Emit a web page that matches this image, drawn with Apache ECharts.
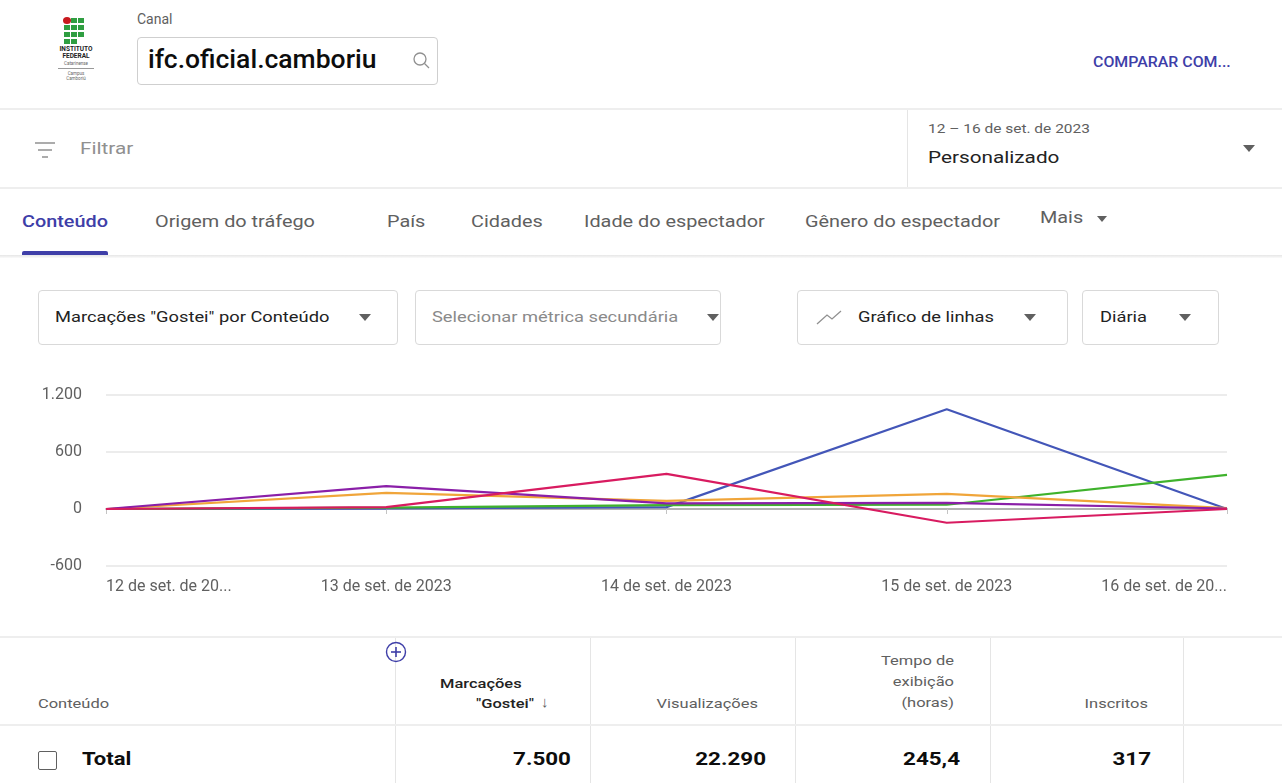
<!DOCTYPE html>
<html lang="pt-BR">
<head>
<meta charset="UTF-8">
<title>ifc.oficial.camboriu - Marcações "Gostei"</title>
<script src="https://cdn.jsdelivr.net/npm/echarts@6/dist/echarts.min.js"></script>
<style>
    body { margin: 0; width: 1282px; height: 783px; overflow: hidden; background: #fff; font-family: Roboto, "Noto Sans", sans-serif; color: #0d0d0d; position: relative; }
    .abs { position: absolute; white-space: nowrap; }
    .w { transform: scaleX(1.22); transform-origin: left center; }
    .wr { transform: scaleX(1.22); transform-origin: right center; }
    .box { position: absolute; border: 1px solid #d9d9d9; border-radius: 4px; box-sizing: border-box; }
    .tri { position: absolute; width: 0; height: 0; border-left: 6px solid transparent; border-right: 6px solid transparent; border-top: 7px solid #606060; }
    .tab { position: absolute; top: 212px; font-size: 16px; color: #606060; white-space: nowrap; transform: scaleX(1.24); transform-origin: left center; }
    .th { position: absolute; font-size: 13.5px; color: #606060; text-align: right; line-height: 21px; white-space: nowrap; }
    .td { position: absolute; top: 747px; font-size: 19px; font-weight: 700; text-align: right; transform: scaleX(1.18); transform-origin: right center; }
    .vline { position: absolute; width: 1px; background: #e5e5e5; }
    .hline { position: absolute; left: 0; width: 1282px; height: 1px; background: #e5e5e5; }
    .sq { position: absolute; width: 6px; height: 5px; background: #2f9e41; }
</style>
</head>
<body>
<!-- logo -->
<div class="abs" style="left:63px;top:17px;width:8px;height:7px;border-radius:50%;background:#c8191e"></div>
<div class="sq" style="left:71px;top:18px"></div><div class="sq" style="left:78px;top:18px"></div>
<div class="sq" style="left:64px;top:25px"></div><div class="sq" style="left:71px;top:25px"></div><div class="sq" style="left:78px;top:25px"></div>
<div class="sq" style="left:64px;top:32px"></div><div class="sq" style="left:71px;top:32px"></div><div class="sq" style="left:78px;top:32px"></div>
<div class="sq" style="left:64px;top:39px"></div><div class="sq" style="left:71px;top:39px"></div>
<div class="abs" style="left:52px;top:46px;width:48px;text-align:center;font-size:6.5px;font-weight:700;line-height:7px;color:#222">INSTITUTO<br>FEDERAL</div>
<div class="abs" style="left:52px;top:61px;width:48px;text-align:center;font-size:4.5px;line-height:5px;color:#666">Catarinense</div>
<div class="abs" style="left:58px;top:68px;width:36px;height:1px;background:#999"></div>
<div class="abs" style="left:52px;top:71px;width:48px;text-align:center;font-size:4.5px;line-height:5px;color:#666">Campus<br>Camboriú</div>

<div class="abs" style="left:137px;top:11px;font-size:14px;color:#606060">Canal</div>
<div class="box" style="left:137px;top:37px;width:301px;height:48px;border-color:#cfcfcf"></div>
<div class="abs" style="left:148px;top:45px;font-size:25px;font-weight:500;color:#0d0d0d;transform:scaleX(1.06);transform-origin:left center">ifc.oficial.camboriu</div>
<svg class="abs" style="left:412px;top:51px" width="20" height="20" viewBox="0 0 20 20"><circle cx="8" cy="8" r="6" fill="none" stroke="#909090" stroke-width="1.3"/><line x1="12.5" y1="12.5" x2="17" y2="17" stroke="#909090" stroke-width="1.3"/></svg>
<div class="abs" style="left:1093px;top:53px;font-size:15px;font-weight:500;color:#3e3ea8;transform:scaleX(1.06);transform-origin:left center">COMPARAR COM...</div>

<!-- filter row -->
<div class="hline" style="top:108px;height:2px;background:#eeeeee"></div>
<svg class="abs" style="left:34px;top:140px" width="24" height="22" viewBox="0 0 24 22"><line x1="1" y1="3" x2="21" y2="3" stroke="#909090" stroke-width="1.5"/><line x1="4" y1="10" x2="18" y2="10" stroke="#909090" stroke-width="1.5"/><line x1="8" y1="17" x2="14" y2="17" stroke="#909090" stroke-width="1.5"/></svg>
<div class="abs w" style="left:80px;top:138px;font-size:17px;color:#909090">Filtrar</div>
<div class="vline" style="left:907px;top:110px;height:78px"></div>
<div class="abs" style="left:928px;top:121px;font-size:13px;color:#606060;transform:scaleX(1.19);transform-origin:left center">12 – 16 de set. de 2023</div>
<div class="abs w" style="left:928px;top:147px;font-size:17px;color:#222">Personalizado</div>
<div class="tri" style="left:1243px;top:145px"></div>
<div class="hline" style="top:187px;height:2px;background:#eeeeee"></div>

<!-- tabs -->
<div class="tab" style="left:22px;color:#3e3ea8;font-weight:500">Conteúdo</div>
<div class="abs" style="left:22px;top:251px;width:86px;height:4px;background:#3f3fa8;border-radius:2px 2px 0 0"></div>
<div class="tab" style="left:155px">Origem do tráfego</div>
<div class="tab" style="left:387px">País</div>
<div class="tab" style="left:471px">Cidades</div>
<div class="tab" style="left:584px">Idade do espectador</div>
<div class="tab" style="left:805px">Gênero do espectador</div>
<div class="tab" style="left:1040px;top:208px">Mais</div>
<div class="tri" style="left:1097px;top:216px;border-left-width:5px;border-right-width:5px;border-top-width:6px"></div>
<div class="hline" style="top:255px;height:3px;background:linear-gradient(#e6e6e6,#fafafa)"></div>

<!-- selectors -->
<div class="box" style="left:38px;top:290px;width:360px;height:55px"></div>
<div class="abs w" style="left:55px;top:308px;font-size:15px;color:#222">Marcações "Gostei" por Conteúdo</div>
<div class="tri" style="left:359px;top:314px"></div>
<div class="box" style="left:415px;top:290px;width:306px;height:55px"></div>
<div class="abs w" style="left:432px;top:308px;font-size:15px;color:#8a8a8a">Selecionar métrica secundária</div>
<div class="tri" style="left:707px;top:314px"></div>
<div class="box" style="left:797px;top:290px;width:271px;height:55px"></div>
<svg class="abs" style="left:815px;top:308px" width="28" height="18" viewBox="0 0 28 18"><polyline points="2,16 12,7 17,11 26,3" fill="none" stroke="#909090" stroke-width="1.3"/></svg>
<div class="abs w" style="left:858px;top:308px;font-size:15px;color:#222">Gráfico de linhas</div>
<div class="tri" style="left:1024px;top:314px"></div>
<div class="box" style="left:1082px;top:290px;width:137px;height:55px"></div>
<div class="abs w" style="left:1100px;top:308px;font-size:15px;color:#222">Diária</div>
<div class="tri" style="left:1179px;top:314px"></div>

<!-- chart -->
<div id="main" class="abs" style="left:0;top:370px;width:1282px;height:250px"></div>

<!-- table -->
<div class="hline" style="top:636px;height:2px;background:#eeeeee"></div>
<div class="vline" style="left:395px;top:638px;height:145px"></div>
<div class="vline" style="left:590px;top:638px;height:145px"></div>
<div class="vline" style="left:795px;top:638px;height:145px"></div>
<div class="vline" style="left:990px;top:638px;height:145px"></div>
<div class="vline" style="left:1183px;top:638px;height:145px"></div>
<div class="th w" style="left:38px;top:693px;text-align:left">Conteúdo</div>
<svg class="abs" style="left:385px;top:641px" width="22" height="22" viewBox="0 0 22 22"><circle cx="11" cy="11" r="9.5" fill="none" stroke="#3e3ea8" stroke-width="1.4"/><line x1="11" y1="6" x2="11" y2="16" stroke="#3e3ea8" stroke-width="1.6"/><line x1="6" y1="11" x2="16" y2="11" stroke="#3e3ea8" stroke-width="1.6"/></svg>
<div class="th w" style="left:440px;top:673px;text-align:left;color:#222;font-weight:500">Marcações</div>
<div class="th wr" style="left:420px;top:693px;width:114px;color:#222;font-weight:500">"Gostei"</div>
<div class="abs" style="left:541px;top:693px;font-size:15px;color:#606060">↓</div>
<div class="th wr" style="left:600px;top:693px;width:158px">Visualizações</div>
<div class="th wr" style="left:800px;top:650px;width:154px">Tempo de<br>exibição<br>(horas)</div>
<div class="th wr" style="left:1000px;top:693px;width:148px">Inscritos</div>
<div class="hline" style="top:724px;height:2px;background:#eeeeee"></div>
<div class="abs" style="left:38px;top:751px;width:19px;height:19px;border:1.5px solid #606060;border-radius:2px;box-sizing:border-box"></div>
<div class="abs" style="left:82px;top:747px;font-size:19px;font-weight:700;transform:scaleX(1.16);transform-origin:left center">Total</div>
<div class="td" style="left:450px;width:121px">7.500</div>
<div class="td" style="left:650px;width:116px">22.290</div>
<div class="td" style="left:850px;width:110px">245,4</div>
<div class="td" style="left:1050px;width:101px">317</div>

<script>
    // dias (eixo x)
    var dias = ['12 de set. de 2023', '13 de set. de 2023', '14 de set. de 2023', '15 de set. de 2023', '16 de set. de 2023'];
    // marcações "Gostei" por conteúdo
    var conteudo1 = [0, 5, 20, 1050, 0];      // azul
    var conteudo2 = [0, 15, 40, 45, 360];     // verde
    var conteudo3 = [0, 170, 85, 160, 10];    // laranja
    var conteudo4 = [0, 240, 60, 65, 5];      // roxo
    var conteudo5 = [0, 20, 370, -145, 0];    // rosa
    var eixoY = { min: -600, max: 1200, interval: 600 };

    var cores = ['#4356b8', '#3fb22c', '#f0a53a', '#8a1fa8', '#d81b60'];
    var nomes = ['Conteúdo 1', 'Conteúdo 2', 'Conteúdo 3', 'Conteúdo 4', 'Conteúdo 5'];
    var valores = [conteudo1, conteudo2, conteudo3, conteudo4, conteudo5];

    var myChart = echarts.init(document.getElementById('main'));
    var option = {
        animation: false,
        color: cores,
        grid: { left: 106, right: 55, top: 25, bottom: 54 },
        xAxis: {
            type: 'category',
            data: dias,
            boundaryGap: false,
            axisLine: { lineStyle: { color: '#9e9e9e', width: 1.5 } },
            axisTick: { show: true, length: 5, lineStyle: { color: '#c4c4c4' } },
            axisLabel: {
                color: '#606060',
                fontSize: 16,
                fontFamily: 'Roboto',
                margin: 13,
                interval: 0,
                alignMinLabel: 'left',
                alignMaxLabel: 'right',
                formatter: function (v, i) {
                    // primeiro e último cortados como no original
                    if (i === 0 || i === dias.length - 1) return v.slice(0, 16) + '...';
                    return v;
                }
            }
        },
        yAxis: {
            type: 'value',
            min: eixoY.min,
            max: eixoY.max,
            interval: eixoY.interval,
            axisLine: { show: false },
            axisTick: { show: false },
            splitLine: { lineStyle: { color: '#ececec', width: 2 } },
            axisLabel: {
                color: '#606060',
                fontSize: 16,
                fontFamily: 'Roboto',
                margin: 24,
                formatter: function (v) { return v.toLocaleString('pt-BR'); }
            }
        },
        series: valores.map(function (d, i) {
            return {
                name: nomes[i],
                type: 'line',
                data: d,
                symbol: 'none',
                lineStyle: { width: 2.2 }
            };
        })
    };
    myChart.setOption(option);
</script>
</body>
</html>
